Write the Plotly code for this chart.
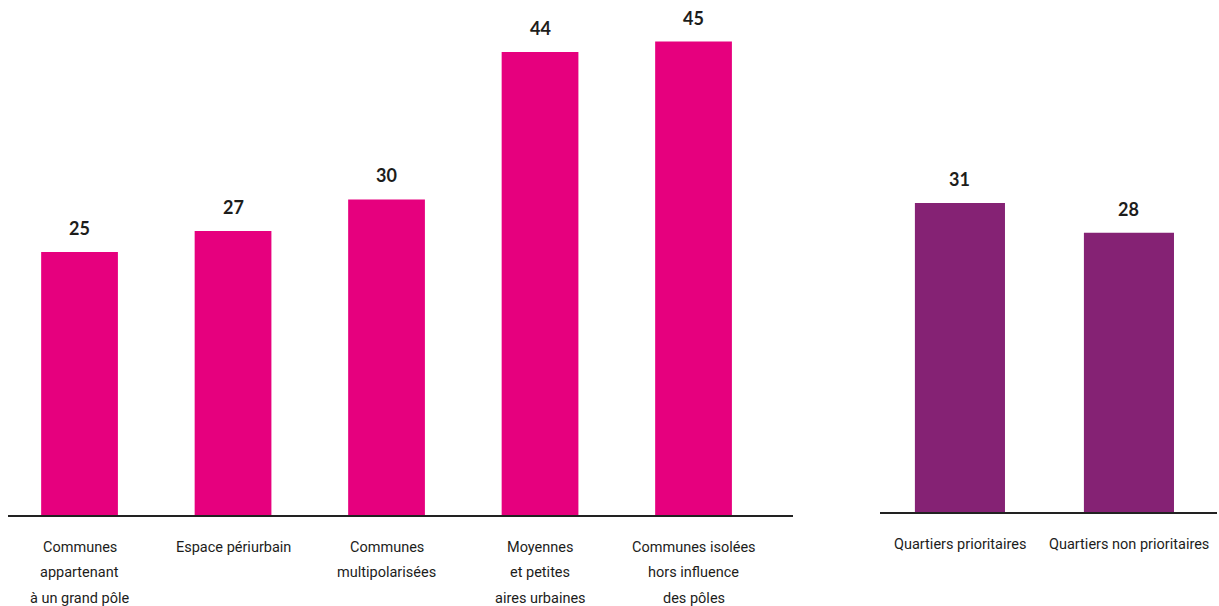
import plotly.graph_objects as go

# Territorial categories and their values (left panel)
territoires = [
    "Communes<br>appartenant<br>à un grand pôle",
    "Espace périurbain",
    "Communes<br>multipolarisées",
    "Moyennes<br>et petites<br>aires urbaines",
    "Communes isolées<br>hors influence<br>des pôles",
]
valeurs_territoires = [25, 27, 30, 44, 45]

# Priority neighbourhoods (right panel)
quartiers = ["Quartiers prioritaires", "Quartiers non prioritaires"]
valeurs_quartiers = [31, 28]

MAGENTA = "#E6007E"
VIOLET = "#852274"
TEXT = "#1d1d1b"
LABEL_FONT = "Roboto, sans-serif"
VALUE_FONT = "Lato, Open Sans, sans-serif"

W, H = 1219, 606

fig = go.Figure()
fig.add_trace(go.Bar(x=territoires, y=valeurs_territoires, marker_color=MAGENTA,
                     marker_line_width=0, width=0.5, xaxis="x", yaxis="y",
                     hoverinfo="x+y"))
fig.add_trace(go.Bar(x=quartiers, y=valeurs_quartiers, marker_color=VIOLET,
                     marker_line_width=0, width=0.533, xaxis="x2", yaxis="y2",
                     hoverinfo="x+y"))

annotations = []


def add_labels(cats, vals, xref, base_paper):
    for c, v in zip(cats, vals):
        # value above each bar
        annotations.append(dict(
            x=c, y=v, xref=xref, yref="y" if xref == "x" else "y2",
            text=f"<b>{v}</b>", showarrow=False, yanchor="middle", yshift=24,
            font=dict(family=VALUE_FONT, size=18, color=TEXT)))
        # category name below the axis, one line at a time
        for i, line in enumerate(c.split("<br>")):
            annotations.append(dict(
                x=c, y=base_paper, xref=xref, yref="paper",
                text=line, showarrow=False, yanchor="middle",
                yshift=-32 - 25.5 * i,
                font=dict(family=LABEL_FONT, size=14.5, color=TEXT)))


base_left = 1 - 515 / H
base_right = 1 - 512 / H
add_labels(territoires, valeurs_territoires, "x", base_left)
add_labels(quartiers, valeurs_quartiers, "x2", base_right)

axis_common = dict(showgrid=False, zeroline=False, showticklabels=False, ticks="")

fig.update_layout(
    width=W, height=H,
    margin=dict(l=0, r=0, t=0, b=0),
    paper_bgcolor="white", plot_bgcolor="white",
    showlegend=False,
    xaxis=dict(domain=[8 / W, 793 / W], type="category", range=[-0.466, 4.648],
               showline=True, linecolor="#222", linewidth=1.5, anchor="y", **axis_common),
    yaxis=dict(domain=[base_left, 1], range=[0, 515 / 10.52], anchor="x",
               showline=False, **axis_common),
    xaxis2=dict(domain=[880 / W, 1217 / W], type="category", range=[-0.473, 1.521],
                showline=True, linecolor="#222", linewidth=1.5, anchor="y2", **axis_common),
    yaxis2=dict(domain=[base_right, 1], range=[0, 512 / 9.97], anchor="x2",
                showline=False, **axis_common),
    annotations=annotations,
)

fig.write_html("out.html")
